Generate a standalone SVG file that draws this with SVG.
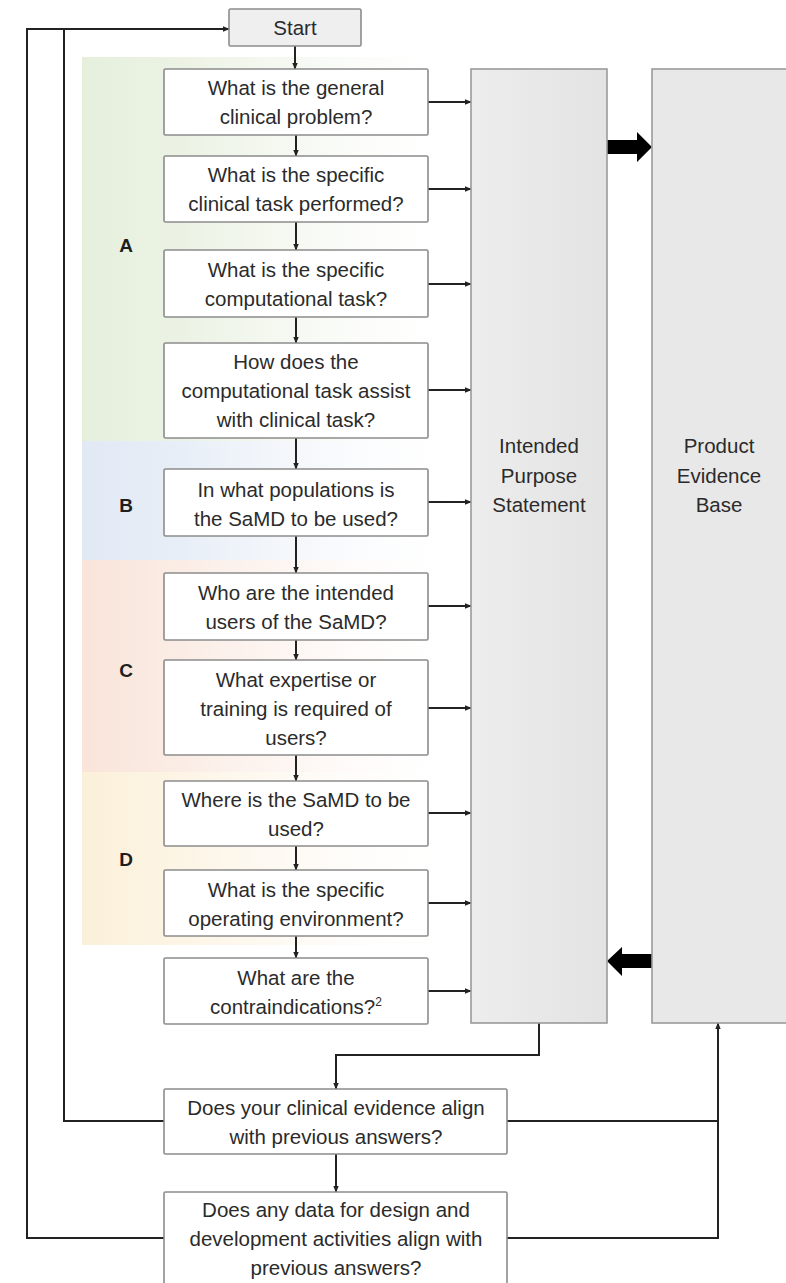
<svg xmlns="http://www.w3.org/2000/svg" width="786" height="1283" viewBox="0 0 786 1283">
  <style>
    .box { fill: #ffffff; stroke: #8c8c8c; stroke-width: 1.6; }
    .start { fill: #efefef; stroke: #8c8c8c; stroke-width: 1.6; }
    .panel { stroke: #9a9a9a; stroke-width: 1.6; }
    .t { font-family: "Liberation Sans", Arial, sans-serif; font-size: 20.5px; fill: #2b2b2b; text-anchor: middle; }
    .lbl { font-family: "Liberation Sans", Arial, sans-serif; font-size: 19px; font-weight: bold; fill: #1e1e1e; text-anchor: middle; }
    .ln { fill: none; stroke: #222222; stroke-width: 2; }
    .arr { fill: none; stroke: #222222; stroke-width: 2; marker-end: url(#head); }
    .big { fill: #000000; }
  </style>
  <defs>
    <marker id="head" viewBox="0 0 10 10" refX="9" refY="5" markerWidth="7" markerHeight="7" markerUnits="userSpaceOnUse" orient="auto">
      <path d="M0,1 L10,5 L0,9 z" fill="#222222"/>
    </marker>
    <linearGradient id="gA" x1="0" y1="0" x2="1" y2="0">
      <stop offset="0" stop-color="#e6efdc" stop-opacity="1"/>
      <stop offset="0.25" stop-color="#e9f1e1" stop-opacity="0.9"/>
      <stop offset="0.6" stop-color="#f0f5ea" stop-opacity="0.5"/>
      <stop offset="1" stop-color="#ffffff" stop-opacity="0"/>
    </linearGradient>
    <linearGradient id="gB" x1="0" y1="0" x2="1" y2="0">
      <stop offset="0" stop-color="#e1e9f5" stop-opacity="1"/>
      <stop offset="0.25" stop-color="#e5ecf6" stop-opacity="0.9"/>
      <stop offset="0.6" stop-color="#eef2f9" stop-opacity="0.5"/>
      <stop offset="1" stop-color="#ffffff" stop-opacity="0"/>
    </linearGradient>
    <linearGradient id="gC" x1="0" y1="0" x2="1" y2="0">
      <stop offset="0" stop-color="#f9e4d9" stop-opacity="1"/>
      <stop offset="0.25" stop-color="#faeae2" stop-opacity="0.9"/>
      <stop offset="0.6" stop-color="#fcf1ec" stop-opacity="0.5"/>
      <stop offset="1" stop-color="#ffffff" stop-opacity="0"/>
    </linearGradient>
    <linearGradient id="gD" x1="0" y1="0" x2="1" y2="0">
      <stop offset="0" stop-color="#fbf0d9" stop-opacity="1"/>
      <stop offset="0.25" stop-color="#fcf3e2" stop-opacity="0.9"/>
      <stop offset="0.6" stop-color="#fdf7ee" stop-opacity="0.5"/>
      <stop offset="1" stop-color="#ffffff" stop-opacity="0"/>
    </linearGradient>
    <linearGradient id="gPanel" x1="0" y1="0" x2="1" y2="0">
      <stop offset="0" stop-color="#ededed"/>
      <stop offset="1" stop-color="#e3e3e3"/>
    </linearGradient>
  </defs>

  <rect width="786" height="1283" fill="#ffffff"/>

  <!-- section bands -->
  <g id="bands">
    <rect x="82" y="57" width="390" height="384" fill="url(#gA)"/>
    <rect x="82" y="441" width="390" height="119" fill="url(#gB)"/>
    <rect x="82" y="560" width="390" height="212" fill="url(#gC)"/>
    <rect x="82" y="772" width="390" height="173" fill="url(#gD)"/>
    <text class="lbl" x="126" y="252">A</text>
    <text class="lbl" x="126" y="512">B</text>
    <text class="lbl" x="126" y="677">C</text>
    <text class="lbl" x="126" y="866">D</text>
  </g>

  <!-- connectors -->
  <g id="connectors">
    <!-- main vertical chain -->
    <line class="arr" x1="295" y1="46" x2="295" y2="69"/>
    <line class="arr" x1="296" y1="135" x2="296" y2="156"/>
    <line class="arr" x1="296" y1="222" x2="296" y2="250"/>
    <line class="arr" x1="296" y1="317" x2="296" y2="343"/>
    <line class="arr" x1="296" y1="438" x2="296" y2="469"/>
    <line class="arr" x1="296" y1="536" x2="296" y2="573"/>
    <line class="arr" x1="296" y1="640" x2="296" y2="660"/>
    <line class="arr" x1="296" y1="755" x2="296" y2="781"/>
    <line class="arr" x1="296" y1="846" x2="296" y2="870"/>
    <line class="arr" x1="296" y1="936" x2="296" y2="958"/>
    <!-- answers into the purpose statement -->
    <line class="arr" x1="428" y1="102" x2="471" y2="102"/>
    <line class="arr" x1="428" y1="189" x2="471" y2="189"/>
    <line class="arr" x1="428" y1="284" x2="471" y2="284"/>
    <line class="arr" x1="428" y1="390" x2="471" y2="390"/>
    <line class="arr" x1="428" y1="502" x2="471" y2="502"/>
    <line class="arr" x1="428" y1="606" x2="471" y2="606"/>
    <line class="arr" x1="428" y1="708" x2="471" y2="708"/>
    <line class="arr" x1="428" y1="813" x2="471" y2="813"/>
    <line class="arr" x1="428" y1="903" x2="471" y2="903"/>
    <line class="arr" x1="428" y1="991" x2="471" y2="991"/>
    <!-- thick exchange arrows -->
    <path class="big" d="M607,140 L637,140 L637,132 L652,147 L637,162 L637,154 L607,154 z"/>
    <path class="big" d="M652,954 L622,954 L622,947 L607,961 L622,976 L622,968 L652,968 z"/>
    <!-- purpose statement down to evidence check -->
    <path class="arr" d="M539,1023 L539,1055 L336,1055 L336,1089"/>
    <line class="arr" x1="336" y1="1154" x2="336" y2="1192"/>
    <!-- loops back to start -->
    <path class="ln" d="M164,1121 L64,1121 L64,29"/>
    <path class="arr" d="M164,1238 L27,1238 L27,29 L229,29"/>
    <!-- loops up to evidence base -->
    <path class="ln" d="M507,1121 L718,1121"/>
    <path class="arr" d="M507,1238 L718,1238 L718,1023"/>
  </g>

  <g id="start">
    <rect class="start" x="229" y="9" width="132" height="37" rx="1.5"/>
    <text class="t" x="295" y="35">Start</text>
  </g>

  <g id="q1">
    <rect class="box" x="164" y="69" width="264" height="66" rx="1.5"/>
    <text class="t" x="296" y="95">What is the general</text>
    <text class="t" x="296" y="124">clinical problem?</text>
  </g>
  <g id="q2">
    <rect class="box" x="164" y="156" width="264" height="66" rx="1.5"/>
    <text class="t" x="296" y="182">What is the specific</text>
    <text class="t" x="296" y="211">clinical task performed?</text>
  </g>
  <g id="q3">
    <rect class="box" x="164" y="250" width="264" height="67" rx="1.5"/>
    <text class="t" x="296" y="277">What is the specific</text>
    <text class="t" x="296" y="306">computational task?</text>
  </g>
  <g id="q4">
    <rect class="box" x="164" y="343" width="264" height="95" rx="1.5"/>
    <text class="t" x="296" y="369">How does the</text>
    <text class="t" x="296" y="398">computational task assist</text>
    <text class="t" x="296" y="427">with clinical task?</text>
  </g>
  <g id="q5">
    <rect class="box" x="164" y="469" width="264" height="67" rx="1.5"/>
    <text class="t" x="296" y="497">In what populations is</text>
    <text class="t" x="296" y="526">the SaMD to be used?</text>
  </g>
  <g id="q6">
    <rect class="box" x="164" y="573" width="264" height="67" rx="1.5"/>
    <text class="t" x="296" y="600">Who are the intended</text>
    <text class="t" x="296" y="629">users of the SaMD?</text>
  </g>
  <g id="q7">
    <rect class="box" x="164" y="660" width="264" height="95" rx="1.5"/>
    <text class="t" x="296" y="687">What expertise or</text>
    <text class="t" x="296" y="716">training is required of</text>
    <text class="t" x="296" y="745">users?</text>
  </g>
  <g id="q8">
    <rect class="box" x="164" y="781" width="264" height="65" rx="1.5"/>
    <text class="t" x="296" y="807">Where is the SaMD to be</text>
    <text class="t" x="296" y="836">used?</text>
  </g>
  <g id="q9">
    <rect class="box" x="164" y="870" width="264" height="66" rx="1.5"/>
    <text class="t" x="296" y="897">What is the specific</text>
    <text class="t" x="296" y="926">operating environment?</text>
  </g>
  <g id="q10">
    <rect class="box" x="164" y="958" width="264" height="66" rx="1.5"/>
    <text class="t" x="296" y="985">What are the</text>
    <text class="t" x="296" y="1014">contraindications?<tspan font-size="12" dy="-8">2</tspan></text>
  </g>

  <g id="purpose">
    <rect class="panel" x="471" y="69" width="136" height="954" fill="url(#gPanel)"/>
    <text class="t" x="539" y="453">Intended</text>
    <text class="t" x="539" y="483">Purpose</text>
    <text class="t" x="539" y="512">Statement</text>
  </g>
  <g id="evidence">
    <rect class="panel" x="652" y="69" width="140" height="954" fill="#e8e8e8"/>
    <text class="t" x="719" y="453">Product</text>
    <text class="t" x="719" y="483">Evidence</text>
    <text class="t" x="719" y="512">Base</text>
  </g>

  <g id="check1">
    <rect class="box" x="164" y="1089" width="343" height="65" rx="1.5"/>
    <text class="t" x="336" y="1115">Does your clinical evidence align</text>
    <text class="t" x="336" y="1144">with previous answers?</text>
  </g>
  <g id="check2">
    <rect class="box" x="164" y="1192" width="343" height="100" rx="1.5"/>
    <text class="t" x="336" y="1217">Does any data for design and</text>
    <text class="t" x="336" y="1246">development activities align with</text>
    <text class="t" x="336" y="1275">previous answers?</text>
  </g>
</svg>
